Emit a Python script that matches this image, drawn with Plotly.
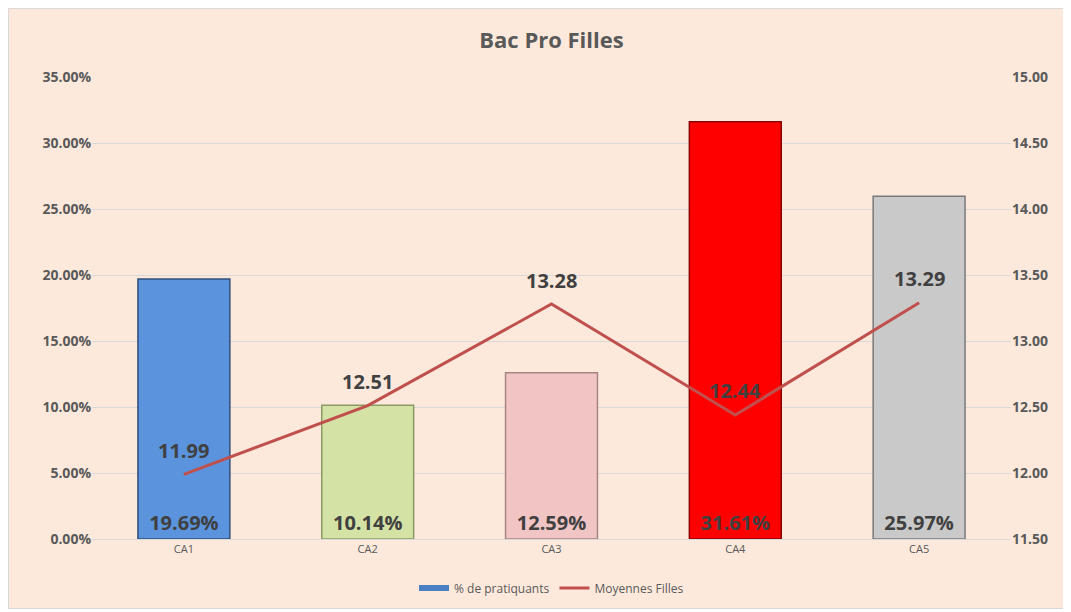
import plotly.graph_objects as go

categories = ["CA1", "CA2", "CA3", "CA4", "CA5"]
pct_pratiquants = [0.1969, 0.1014, 0.1259, 0.3161, 0.2597]
moyennes_filles = [11.99, 12.51, 13.28, 12.44, 13.29]
bar_colors = ["#5b93dc", "#d4e3a5", "#f2c5c5", "#ff0000", "#c9c9c9"]
bar_edges = ["#2f4f7a", "#8a9a62", "#a88484", "#8a0000", "#7a7a7a"]

font = "Open Sans, Liberation Sans, sans-serif"
grey = "#595959"
label_font = dict(family=font, size=20, color="#404040", weight="bold")

fig = go.Figure()
fig.add_trace(go.Bar(
    x=categories, y=pct_pratiquants, name="% de pratiquants",
    marker=dict(color=bar_colors, line=dict(color=bar_edges, width=1.5)),
    width=0.5, showlegend=False,
    text=[f"{v*100:.2f}%" for v in pct_pratiquants],
    textposition="inside", insidetextanchor="start", constraintext="none",
    textfont=label_font, yaxis="y",
))
# legend entry styled like Excel's flat bar swatch
fig.add_trace(go.Scatter(
    x=[None], y=[None], mode="lines", name="% de pratiquants",
    line=dict(color="#4a7fc4", width=6), yaxis="y",
))
fig.add_trace(go.Scatter(
    x=categories, y=moyennes_filles, name="Moyennes Filles",
    mode="lines", line=dict(color="#c0504d", width=3), yaxis="y2",
))
for c, v in zip(categories, moyennes_filles):
    fig.add_annotation(x=c, y=v, xref="x", yref="y2", text=f"{v:.2f}",
                       showarrow=False, yshift=24, font=label_font)

fig.update_layout(
    width=1071, height=601,
    margin=dict(l=84, r=68, t=69, b=70),
    paper_bgcolor="#fde9dc", plot_bgcolor="rgba(0,0,0,0)",
    font=dict(family=font, color=grey),
    title=dict(text="<b>Bac Pro Filles</b>", x=0.5, xref="paper",
               y=0.947, yanchor="middle", font=dict(size=22, color=grey)),
    xaxis=dict(showgrid=False, tickfont=dict(size=11, color=grey),
               showline=True, linecolor="#d9d9d9", ticks="", automargin=False),
    yaxis=dict(range=[0, 0.35], dtick=0.05, tickformat=".2%",
               gridcolor="#d9d9d9", zeroline=False, automargin=False,
               tickfont=dict(size=14, color=grey, weight="bold")),
    yaxis2=dict(range=[11.5, 15], dtick=0.5, tickformat=".2f", overlaying="y",
                side="right", showgrid=False, zeroline=False, automargin=False,
                tickfont=dict(size=14, color=grey, weight="bold")),
    legend=dict(orientation="h", x=0.5, xanchor="center",
                yref="container", y=0.035, yanchor="middle",
                font=dict(size=12, color=grey), bgcolor="rgba(0,0,0,0)",
                itemwidth=30),
    shapes=[dict(type="rect", xref="paper", yref="paper",
                 x0=-83.5 / 919, x1=1.2, y0=-69.5 / 462, y1=1 + 68.5 / 462,
                 fillcolor="rgba(0,0,0,0)", line=dict(color="#d9d9d9", width=1),
                 layer="below")],
)

fig.write_html("out.html")
